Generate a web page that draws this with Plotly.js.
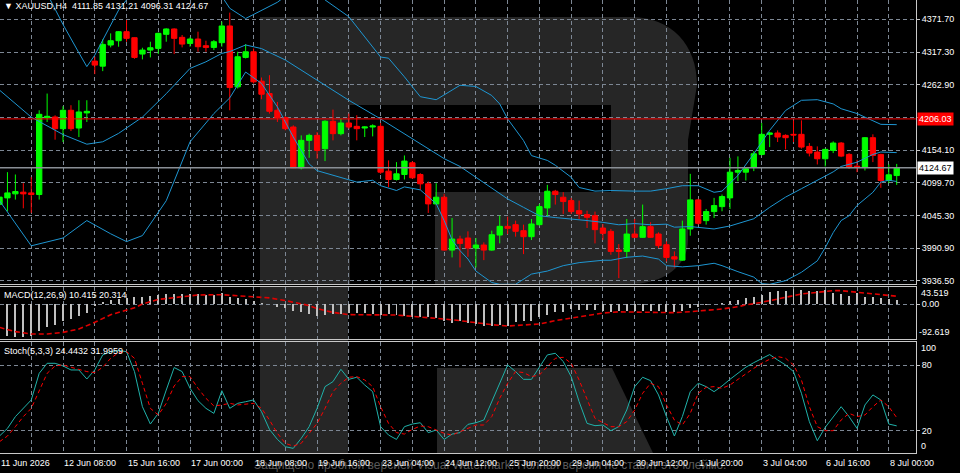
<!DOCTYPE html>
<html><head><meta charset="utf-8">
<script src="https://cdn.plot.ly/plotly-3.0.1.min.js"></script>
<style>html,body{margin:0;padding:0;background:#000;}#chart{width:960px;height:473px;}</style>
</head><body><div id="chart"></div>
<script>
// ---------- DATA ----------
const symbolLabel = '\u25BC XAUUSD,H4  4111.85 4131.21 4096.31 4124.67';
const candleOpen = [4064.0,4074.7,4081.4,4084.2,4083.0,4080.3,4208.2,4209.3,4189.8,4220.4,4190.9,4216.0,4302.2,4293.8,4328.9,4336.1,4351.1,4341.1,4313.9,4320.5,4323.3,4346.7,4355.6,4341.7,4331.6,4338.9,4327.8,4325.0,4332.8,4360.6,4259.4,4308.3,4317.7,4268.8,4248.2,4220.4,4208.2,4192.6,4124.7,4170.4,4178.7,4156.5,4202.1,4181.5,4199.3,4193.7,4190.9,4192.6,4193.7,4119.2,4105.3,4113.6,4133.1,4113.6,4098.1,4064.7,4075.8,3987.9,4006.3,4008.0,3991.3,3996.3,3987.9,4012.9,4027.4,4030.2,4020.2,4010.2,4030.2,4058.0,4085.8,4075.8,4070.2,4053.5,4046.9,4045.2,4024.6,4019.1,3987.9,3985.7,4014.6,4009.1,4026.9,4014.6,3996.8,3976.8,3971.2,4023.0,4071.4,4036.9,4051.9,4060.2,4074.7,4117.5,4117.5,4125.9,4147.0,4180.4,4182.6,4178.7,4180.4,4180.4,4160.3,4150.9,4139.8,4153.7,4165.9,4147.0,4127.5,4125.9,4174.8,4147.0,4103.6,4111.85];
const candleHigh = [4080.0,4117.5,4113.6,4099.2,4109.2,4220.4,4248.2,4212.1,4227.1,4228.8,4237.1,4237.1,4309.4,4338.3,4348.3,4352.2,4370.6,4341.7,4324.4,4334.4,4349.5,4356.7,4356.7,4345.6,4341.7,4351.1,4336.1,4337.2,4367.8,4382.8,4317.7,4330.5,4323.3,4274.9,4278.8,4234.3,4210.4,4195.4,4178.7,4181.5,4184.3,4203.7,4221.5,4206.5,4214.9,4212.1,4193.7,4197.0,4199.3,4137.0,4134.2,4145.3,4135.9,4115.8,4101.9,4099.2,4081.4,4041.3,4011.8,4019.1,4008.0,4000.7,4020.2,4045.2,4043.5,4036.9,4030.2,4039.6,4064.7,4096.4,4088.0,4084.2,4074.7,4070.2,4053.5,4051.9,4031.3,4023.0,3997.9,4039.6,4039.6,4063.6,4034.1,4017.4,4002.4,3985.7,4036.9,4114.7,4073.0,4056.3,4074.7,4080.3,4141.4,4143.7,4125.9,4152.6,4199.3,4184.3,4187.0,4180.4,4203.7,4203.7,4165.9,4160.3,4156.5,4168.7,4167.6,4149.2,4138.1,4175.9,4180.4,4148.1,4130.3,4131.21];
const candleLow = [4058.0,4052.4,4071.9,4057.4,4049.7,4071.9,4201.0,4171.5,4167.6,4185.9,4175.9,4201.0,4280.5,4285.5,4325.0,4326.1,4334.4,4306.1,4305.0,4308.3,4313.9,4334.4,4313.9,4325.0,4326.1,4317.7,4317.7,4320.5,4326.1,4220.4,4256.6,4306.6,4264.9,4238.8,4214.9,4201.0,4187.0,4124.2,4122.0,4141.4,4139.8,4135.9,4170.4,4178.7,4189.8,4170.4,4175.9,4177.0,4114.7,4092.5,4103.6,4105.3,4106.4,4088.1,4049.7,4063.6,3986.8,3975.7,3959.0,3976.8,3959.0,3971.2,3986.8,3999.0,4014.6,4010.2,3981.2,4004.6,4028.5,4043.5,4063.6,4048.0,4048.0,4039.6,4024.6,3999.0,4004.6,3980.1,3941.2,3974.6,4008.0,4008.0,4008.0,3991.3,3969.0,3959.0,3970.1,4011.8,4030.2,4030.2,4041.3,4052.4,4056.3,4102.5,4103.6,4119.2,4145.3,4159.2,4167.6,4155.4,4167.6,4156.5,4143.7,4130.3,4127.0,4149.2,4142.5,4123.1,4117.5,4120.3,4134.2,4091.4,4099.2,4096.31];
const candleClose = [4076.0,4083.0,4085.3,4081.4,4080.3,4213.7,4210.4,4189.8,4220.4,4189.8,4217.6,4218.7,4295.5,4330.0,4336.1,4351.1,4340.0,4308.3,4320.5,4324.4,4348.3,4355.6,4340.0,4330.5,4338.9,4326.1,4325.0,4334.4,4360.6,4258.2,4309.4,4317.7,4267.7,4247.1,4218.7,4208.2,4189.8,4124.7,4170.4,4178.7,4153.7,4202.1,4181.5,4199.3,4192.6,4189.8,4192.6,4194.3,4117.5,4105.3,4114.7,4135.9,4108.1,4098.1,4064.7,4075.8,3987.9,4006.3,3999.0,3991.3,3996.3,3987.9,4013.5,4027.4,4024.1,4019.1,4010.2,4031.3,4060.2,4085.8,4080.3,4068.6,4051.9,4048.0,4042.4,4021.9,4015.7,3985.7,3985.7,4014.6,4009.1,4026.9,4009.1,3995.2,3975.7,3972.9,4023.0,4071.4,4032.4,4051.9,4061.9,4076.9,4117.5,4120.3,4123.1,4148.1,4180.4,4182.6,4175.9,4174.8,4179.3,4159.2,4149.2,4139.8,4155.4,4165.9,4144.2,4125.9,4125.9,4174.8,4145.3,4103.6,4113.1,4124.67];

// Bollinger bands, sampled along the drawn curves (bar index, price)
const bbUpperIdx = [5,6,8,10,11,12,13,14,15,16,17,22,26,28,29,31,33,35,36,38,40,41,44,46,48,49,51,53,55,57,58,60,62,63,64,66,67,69,70,72,73,75,77,80,82,84,86,88,90,91,93,95,97,99,101,103,105,106,108,110,111,113];
const bbUpperVal = [4440,4414,4363,4316,4293,4312,4337,4362,4387,4404,4420,4440,4430,4410,4390,4373,4387,4400,4410,4425,4415,4404,4376,4343,4309,4307,4276,4243,4238,4254,4262,4260,4245,4231,4206,4170,4145,4137,4129,4109,4092,4086,4087,4086,4086,4090,4095,4095,4084,4086,4112,4148,4187,4220,4237,4238,4231,4223,4215,4203,4197,4196.5];
const bbMidIdx = [0,4,8,11,13,15,18,21,24,26,28,29,31,33,36,40,44,48,51,54,56,58,60,62,64,66,68,70,72,74,76,78,80,82,84,85,87,88,90,92,95,97,99,101,103,105,106,108,110,111,113];
const bbMidVal = [4254,4209,4180,4164,4168,4182,4209,4248,4290,4301,4315,4318,4329,4323,4304,4270,4237,4206,4181,4156,4140,4127,4109,4090,4073,4059,4045,4042,4040,4037,4034,4030,4032,4030,4031,4026,4027,4026,4023,4028,4040,4059,4076,4090,4104,4118,4127,4134,4147,4151,4150];
const bbLowIdx = [0,4,8,11,14,16,18,21,24,27,29,31,33,35,37,39,40,43,45,47,48,50,51,53,54,55,56,57,58,59,60,62,63,65,67,69,71,73,76,77,79,81,83,84,86,88,90,91,93,95,96,97,99,101,103,104,105,106,107,108,110,111,112,113];
const bbLowVal = [4070,3995,4008,4037,4015,4002,4012,4070,4168,4215,4241,4284,4265,4226,4176,4131,4120,4109,4101,4104,4095,4087,4093,4088,4076,4065,4037,4005,3987,3973,3953,3934,3931,3931,3948,3953,3962,3967,3971,3971,3976,3978,3973,3962,3960,3962,3966,3962,3952,3943,3932,3931,3937,3951,3970,3992,4017,4037,4045,4062,4084,4101,4104,4102];

// MACD(12,26,9): main (histogram) per bar, signal sampled
const macdMain = [-80,-82.9,-85.5,-85.5,-82.9,-69.8,-61.1,-54.1,-43.6,-38.4,-31.4,-24.4,-6,5,10,14,17,17.5,19.2,20.1,23.6,26.2,26.2,26.2,26.2,26.2,24.4,24.4,27.9,17.5,15.7,13.1,7.0,3.5,-1,-7.0,-10.5,-19.2,-21.8,-26.2,-30.5,-27.9,-26.2,-26.2,-24.4,-24.4,-24.4,-26.2,-27.9,-26.2,-27.9,-30.5,-33.2,-34.9,-33.2,-36.6,-43.6,-50.6,-45.4,-50.6,-52.4,-56.7,-56.7,-54.1,-56.7,-48.0,-43.6,-43.6,-34.9,-27.9,-21.8,-21.8,-13.1,-15.7,-15.7,-15.7,-19.2,-20.5,-19.2,-19.2,-19.2,-17.5,-17.5,-17.5,-21.8,-21.8,-17.5,-10.5,-7.0,-2.6,-0.5,1.7,7.0,10.5,15.7,17.5,24.4,30.5,33.2,34.9,39.3,36.6,33.2,33.2,36.6,27.9,26.2,21.8,27.9,19.2,19.2,15.7,13.1,10.415];
const macdSigIdx = [0,2,4,6,8,10,12,14,17,18,20,23,25,28,30,32,34,36,38,39,40,42,44,47,50,52,54,56,58,60,62,64,66,68,70,72,74,76,78,81,83,85,87,89,91,93,94,96,98,100,101,103,105,106,108,110,111,113];
const macdSigVal = [-61.1,-72.4,-78.5,-78.5,-74.2,-65.4,-48.0,-28,-10,0,12,19.2,23.6,24.4,21.8,19.2,16,9,-1,-4,-12,-22,-27.9,-27.9,-28.8,-32.3,-34.9,-39.3,-43.6,-49.7,-54.1,-57.6,-55.0,-52.4,-43.6,-36.6,-28.8,-23.6,-20.5,-20.9,-21.8,-22.7,-20.1,-16.5,-13.1,-7.0,-2.5,4.4,13.1,21.8,26.2,30.5,34.9,34.9,30.5,27.5,24.4,20.314];

// Stochastic(5,3,3)
const stochMain = [15.1,22.1,32.9,40.5,48.2,72.6,81.8,81.8,79.4,75.7,75.7,67.4,75.7,89.5,92.5,93.5,92.5,74.2,42.0,26.1,35.9,57.3,77.9,74.2,58.9,47.5,40.5,35.9,56.7,40.5,45.1,46.6,48.2,37.4,21.2,12.0,5.3,3.8,13.0,23.7,40.5,60.4,65.0,76.3,67.1,69.0,61.9,55.8,23.7,16.0,12.0,23.7,26.1,27.3,18.2,20.6,12.0,16.9,18.2,25.8,27.3,29.8,46.6,65.0,80.3,74.2,67.1,67.1,78.2,89.5,91.0,83.4,69.6,46.6,26.7,24.6,25.2,20.0,23.7,39.0,60.4,69.0,65.9,52.8,32.9,15.1,32.9,55.8,63.5,60.4,55.8,61.0,67.1,72.6,78.2,82.4,86.4,89.8,84.9,80.3,74.2,54.3,28.3,10.8,23.1,32.9,42.0,32.9,22.1,43.6,52.8,48.2,26.1,24.4432];
const stochSignal = [9.9,15.1,23.7,32.9,40.5,57.3,72.6,79.4,80.3,78.2,76.3,74.2,73.3,78.2,86.4,91.6,92.5,86.4,63.5,40.5,34.4,45.1,61.0,69.6,69.6,58.9,49.7,42.7,43.6,45.1,43.6,44.5,45.1,40.5,29.8,17.6,8.4,5.9,8.4,17.6,26.7,40.5,55.8,63.5,69.0,69.6,66.5,60.4,42.0,26.7,18.2,16.9,21.2,24.3,23.7,20.6,17.6,16.0,19.1,22.1,25.2,25.2,32.9,49.7,63.5,74.2,73.3,69.6,71.1,78.8,86.4,87.3,81.8,66.5,48.2,31.3,27.3,23.7,23.7,28.3,39.0,54.3,63.5,60.4,43.6,29.8,25.2,35.9,54.3,59.8,60.4,58.9,61.9,67.1,72.0,77.2,81.8,85.5,88.0,86.4,80.3,66.5,42.0,23.7,20.0,20.0,29.8,35.9,32.9,34.4,42.0,48.2,42.0,31.9959];

// axis ticks / labels
const priceGridVals = [4371.70,4317.30,4262.90,4208.50,4154.10,4099.70,4045.30,3990.90,3936.50];
const priceGridText = ['4371.70','4317.30','4262.90','','4154.10','4099.70','4045.30','3990.90','3936.50'];
const lineLevel = 4206.03;
const bidPrice = 4124.67;
const dateTickIdx = [0,8,16,24,32,40,48,56,64,72,80,88,96,104,112];
const dateTickText = ['11 Jun 2026','12 Jun 08:00','15 Jun 16:00','17 Jun 00:00','18 Jun 08:00','19 Jun 16:00','23 Jun 04:00','24 Jun 12:00','25 Jun 20:00','29 Jun 04:00','30 Jun 12:00','1 Jul 20:00','3 Jul 04:00','6 Jul 16:00','8 Jul 00:00'];
const macdLabel = 'MACD(12,26,9) 10.415 20.314';
const macdMaxLabel = '43.519', macdMinLabel = '-92.619';
const stochLabel = 'Stoch(5,3,3) 24.4432 31.9959';
const watermarkText = 'Защищено пробной версией Visual Watermark. Полная версия не ставит это клеймо.';

// ---------- BUILD ----------
const idx = candleOpen.map((_, i) => i);
const gridIdx = []; for (let k = 0; k <= 116; k += 4) gridIdx.push(k);
const X_RANGE = [0.063, 115.43];

const PW = 916, PH = 453;
const PX = p => p / PW;
const PY = p => (PH - p) / PH;
const idxToPaper = v => Math.max(0, (v - X_RANGE[0]) / (X_RANGE[1] - X_RANGE[0]));
function path(cmds) { // cmds in pixels -> paper coords
  return cmds.map(c => {
    if (typeof c === 'string') return c;
    return PX(c[0]).toFixed(5) + ',' + PY(c[1]).toFixed(5);
  }).join(' ');
}

const FONT = 'Liberation Sans, Arial, sans-serif';
const GRID = '#7d8794';
const LINE = '#c8c8c8';
const BB = '#1e96d2';

const traces = [
  {type:'candlestick', x: idx, open: candleOpen, high: candleHigh, low: candleLow, close: candleClose,
   xaxis:'x', yaxis:'y', hoverinfo:'skip',
   increasing:{line:{color:'#00ff00', width:1}, fillcolor:'#00ff00'},
   decreasing:{line:{color:'#ff0000', width:1}, fillcolor:'#ff0000'}},
  {type:'scatter', mode:'lines', x: bbUpperIdx, y: bbUpperVal, xaxis:'x', yaxis:'y', line:{color:BB, width:1}, hoverinfo:'skip'},
  {type:'scatter', mode:'lines', x: bbMidIdx, y: bbMidVal, xaxis:'x', yaxis:'y', line:{color:BB, width:1}, hoverinfo:'skip'},
  {type:'scatter', mode:'lines', x: bbLowIdx, y: bbLowVal, xaxis:'x', yaxis:'y', line:{color:BB, width:1}, hoverinfo:'skip'},
  {type:'bar', x: idx, y: macdMain, xaxis:'x2', yaxis:'y2', width:0.25, marker:{color:'#c0c0c0', line:{width:0}}, hoverinfo:'skip'},
  {type:'scatter', mode:'lines', x: macdSigIdx, y: macdSigVal, xaxis:'x2', yaxis:'y2', line:{color:'#e00000', width:1.6, dash:'5px,3px'}, hoverinfo:'skip'},
  {type:'scatter', mode:'lines', x: idx, y: stochMain, xaxis:'x3', yaxis:'y3', line:{color:'#20b2aa', width:1}, hoverinfo:'skip'},
  {type:'scatter', mode:'lines', x: idx, y: stochSignal, xaxis:'x3', yaxis:'y3', line:{color:'#ff0000', width:1, dash:'4px,3px'}, hoverinfo:'skip'}
];

const xBase = {range:X_RANGE.slice(), tickvals: gridIdx, showticklabels:false, ticks:'',
  showgrid:true, gridcolor:GRID, griddash:'4px,3px', gridwidth:1, zeroline:false,
  showline:true, linecolor:LINE, linewidth:1, rangeslider:{visible:false}, fixedrange:true};
const yBase = {side:'right', showgrid:true, gridcolor:GRID, griddash:'4px,3px', gridwidth:1, zeroline:false,
  showline:true, linecolor:LINE, linewidth:1, ticks:'outside', ticklen:3, tickcolor:LINE,
  tickfont:{color:'#ffffff', size:9, family:FONT}, fixedrange:true};

const annotations = [];
function ann(o){ annotations.push(Object.assign({showarrow:false, font:{color:'#ffffff', size:9, family:FONT}, borderpad:1}, o)); }
ann({text:watermarkText, xref:'paper', yref:'paper', x:PX(252), y:PY(465), xanchor:'left', yanchor:'middle', font:{color:'#5a5a5a', size:12, family:FONT}});
ann({text:symbolLabel, xref:'paper', yref:'paper', x:PX(2), y:PY(6.5), xanchor:'left', yanchor:'middle'});
ann({text:macdLabel, xref:'paper', yref:'paper', x:PX(2), y:PY(295), xanchor:'left', yanchor:'middle'});
ann({text:stochLabel, xref:'paper', yref:'paper', x:PX(2), y:PY(350.5), xanchor:'left', yanchor:'middle'});
ann({text:macdMaxLabel, xref:'paper', yref:'paper', x:1, xshift:3, y:PY(293.3), xanchor:'left', yanchor:'middle'});
ann({text:macdMinLabel, xref:'paper', yref:'paper', x:1, xshift:1, y:PY(332.3), xanchor:'left', yanchor:'middle'});
ann({text:'100', xref:'paper', yref:'paper', x:1, xshift:3, y:PY(348.3), xanchor:'left', yanchor:'middle'});
ann({text:'0', xref:'paper', yref:'paper', x:1, xshift:3, y:PY(446), xanchor:'left', yanchor:'middle'});
ann({text:lineLevel.toFixed(2), xref:'paper', yref:'y', x:1, xshift:1, y:lineLevel, xanchor:'left', yanchor:'middle', bgcolor:'#ff0000', font:{color:'#ffffff', size:9, family:FONT}});
ann({text:bidPrice.toFixed(2), xref:'paper', yref:'y', x:1, xshift:1, y:bidPrice, xanchor:'left', yanchor:'middle', bgcolor:'#ffffff', font:{color:'#000000', size:9, family:FONT}});
dateTickIdx.forEach((v, k) => ann({text:dateTickText[k], xref:'paper', yref:'paper', x:idxToPaper(v), xshift:-1, y:PY(463), xanchor:'left', yanchor:'middle'}));

const WM = '#262626';
const shapes = [
  {type:'path', xref:'paper', yref:'paper', layer:'below', fillcolor:WM, line:{width:0},
   path: path(['M',[260,17],'L',[630,17],'C',[672,17],[697,45],[697,85],'L',[688,140],'L',[688,240],'C',[688,265],[665,284],[630,284],
               'L',[435,284],'L',[435,192],'L',[350,192],'L',[350,284],'L',[260,284],'Z',
               'M',[350,105],'L',[350,192],'L',[611,192],'L',[611,105],'Z'])},
  {type:'path', xref:'paper', yref:'paper', layer:'below', fillcolor:WM, line:{width:0},
   path: path(['M',[260,286],'L',[348,286],'L',[348,453],'L',[260,453],'Z'])},
  {type:'path', xref:'paper', yref:'paper', layer:'below', fillcolor:WM, line:{width:0},
   path: path(['M',[437,368],'L',[612,368],'L',[653,453],'L',[437,453],'Z'])},
  {type:'line', xref:'paper', yref:'y', x0:0, x1:1, y0:lineLevel, y1:lineLevel, line:{color:'#ff0000', width:1}},
  {type:'line', xref:'paper', yref:'y', x0:0, x1:1, y0:bidPrice, y1:bidPrice, line:{color:'#8a8f96', width:1.5}}
];

const layout = {
  width:960, height:473, margin:{l:0, r:44, t:0, b:20, pad:0},
  paper_bgcolor:'#000000', plot_bgcolor:'rgba(0,0,0,0)', showlegend:false, hovermode:false,
  boxgap:0.33, boxgroupgap:0, bargap:0,
  font:{family:FONT, color:'#ffffff', size:9},
  xaxis: Object.assign({}, xBase, {anchor:'y', domain:[0,1]}),
  xaxis2: Object.assign({}, xBase, {anchor:'y2', matches:'x', mirror:true}),
  xaxis3: Object.assign({}, xBase, {anchor:'y3', matches:'x', mirror:true}),
  yaxis: Object.assign({}, yBase, {anchor:'x', domain:[PY(284), 1], range:[3931.5, 4403.8], tickvals:priceGridVals, ticktext:priceGridText}),
  yaxis2: Object.assign({}, yBase, {anchor:'x2', domain:[PY(339), PY(287)], range:[-91.6, 44.5], tickvals:[0], ticktext:['0.00']}),
  yaxis3: Object.assign({}, yBase, {anchor:'x3', domain:[0, PY(341.5)], range:[-0.46, 101.8], tickvals:[20, 80], ticktext:['20','80']}),
  annotations, shapes
};

Plotly.newPlot('chart', traces, layout, {displayModeBar:false, staticPlot:true});
</script></body></html>
